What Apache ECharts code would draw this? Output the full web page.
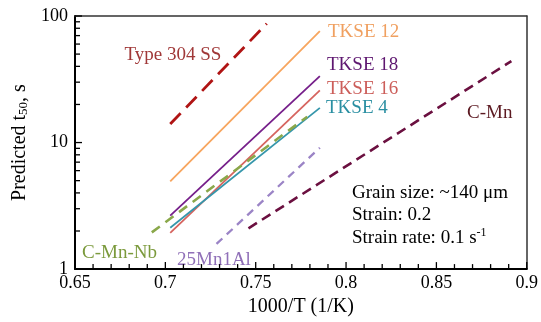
<!DOCTYPE html>
<html><head><meta charset="utf-8">
<script src="https://cdn.jsdelivr.net/npm/echarts@6/dist/echarts.min.js"></script>
<style>html,body{margin:0;padding:0;background:#fff}#c{width:541px;height:322px}</style>
</head><body><div id="c"></div>
<script>
// Data: [1000/T, predicted t50 (s)]
const tkse12 = [[0.7027, 4.93], [0.7855, 76]];
const tkse18 = [[0.7027, 2.65], [0.7855, 33.5]];
const tkse16 = [[0.7027, 1.93], [0.7855, 25.8]];
const tkse4 = [[0.7027, 2.12], [0.7855, 18.8]];
const type304 = [[0.7027, 14.0], [0.7561, 87]];
const cmnnb = [[0.6925, 1.95], [0.7785, 16.0]];
const mn25al1 = [[0.7283, 1.58], [0.7855, 9.1]];
const cmn = [[0.746, 2.1], [0.8915, 44]];
// tick values
const xMajor = [0.65, 0.7, 0.75, 0.8, 0.85, 0.9];
const xMinor = [0.66, 0.67, 0.68, 0.69, 0.71, 0.72, 0.73, 0.74, 0.76, 0.77, 0.78, 0.79,
                0.81, 0.82, 0.83, 0.84, 0.86, 0.87, 0.88, 0.89];
const yMajor = [1, 10, 100];
const yMinor = [2, 3, 4, 5, 6, 7, 8, 9, 20, 30, 40, 50, 60, 70, 80, 90];

const X_MIN = 0.65, X_MAX = 0.9, Y_MIN = 1, Y_MAX = 100;
const FONT = 'Liberation Serif';
const chart = echarts.init(document.getElementById('c'));
function line(name, data, color, width, dash) {
  return { name, type: 'line', data, symbol: 'none', xAxisIndex: 0, yAxisIndex: 0,
    lineStyle: { color, width, type: dash || 'solid', cap: 'butt' }, silent: true, animation: false };
}
function txt(text, x, y, color, align) {
  return { type: 'text', x, y, style: { text, fill: color, font: '19px "' + FONT + '"',
    align: align || 'left', verticalAlign: 'middle' } };
}
// inward tick marks as small rectangles placed through the axes' scales
function ticks(data, size, offset) {
  return { type: 'scatter', xAxisIndex: 0, yAxisIndex: 0, data, symbol: 'rect',
    symbolSize: size, symbolOffset: offset, clip: false, silent: true, z: 20, animation: false,
    itemStyle: { color: '#000', opacity: 1 } };
}
chart.setOption({
  animation: false,
  grid: { left: 75, top: 16, right: 12, bottom: 49 },
  xAxis: [{
    type: 'value', min: X_MIN, max: X_MAX, interval: 0.05, position: 'bottom',
    axisLine: { show: true, lineStyle: { color: '#000', width: 2 } },
    axisTick: { show: false }, minorTick: { show: false }, splitLine: { show: false },
    axisLabel: { show: true, color: '#000', fontFamily: FONT, fontSize: 18, margin: 5,
      formatter: v => String(+v.toFixed(2)) },
    name: '1000/T (1/K)', nameLocation: 'middle', nameGap: 26,
    nameTextStyle: { color: '#000', fontFamily: FONT, fontSize: 20 }
  }, {
    type: 'value', min: X_MIN, max: X_MAX, position: 'top',
    axisLine: { show: true, lineStyle: { color: '#333', width: 1.5 } },
    axisTick: { show: false }, axisLabel: { show: false }, splitLine: { show: false }
  }],
  yAxis: [{
    type: 'log', logBase: 10, min: Y_MIN, max: Y_MAX, position: 'left',
    axisLine: { show: true, lineStyle: { color: '#000', width: 2 } },
    axisTick: { show: false }, splitLine: { show: false },
    axisLabel: { show: true, color: '#000', fontFamily: FONT, fontSize: 18, margin: 7 },
    name: 'Predicted t{sub|50}, s', nameLocation: 'middle', nameGap: 40, nameRotate: 90,
    nameTextStyle: { color: '#000', fontFamily: FONT, fontSize: 20,
      rich: { sub: { fontFamily: FONT, fontSize: 13, verticalAlign: 'bottom', padding: [8, 0, 0, 0] } } }
  }, {
    type: 'log', logBase: 10, min: Y_MIN, max: Y_MAX, position: 'right',
    axisLine: { show: true, lineStyle: { color: '#333', width: 1.5 } },
    axisTick: { show: false }, axisLabel: { show: false }, splitLine: { show: false }
  }],
  series: [
    line('TKSE 12', tkse12, '#f7a55e', 1.8),
    line('TKSE 18', tkse18, '#761f8a', 1.8),
    line('TKSE 16', tkse16, '#d6645f', 1.8),
    line('TKSE 4', tkse4, '#3596ab', 1.8),
    line('C-Mn-Nb', cmnnb, '#8aa84a', 2.6, [10, 7]),
    line('25Mn1Al', mn25al1, '#9b84c6', 2.3, [8, 6]),
    line('C-Mn', cmn, '#6b1040', 2.6, [10, 6]),
    line('Type 304 SS', type304, '#b01414', 2.8, [15, 8]),
    ticks(yMinor.map(v => [X_MIN, v]), [5, 1.3], [2.5, 0]),
    ticks(yMajor.map(v => [X_MIN, v]), [7, 1.3], [3.5, 0]),
    ticks(xMinor.map(v => [v, Y_MIN]), [1.3, 5], [0, -2.5]),
    ticks(xMajor.map(v => [v, Y_MIN]), [1.3, 7], [0, -3.5])
  ],
  graphic: [
    txt('Type 304 SS', 173, 55, '#a03838', 'center'),
    txt('TKSE 12', 328, 32, '#f0a060'),
    txt('TKSE 18', 327, 65, '#5e1770'),
    txt('TKSE 16', 327, 89, '#cc5e5a'),
    txt('TKSE 4', 326, 108, '#2a8fa2'),
    txt('C-Mn', 467, 113, '#5c1a22'),
    txt('C-Mn-Nb', 82, 253, '#7b9a3c'),
    txt('25Mn1Al', 177, 260, '#9070b8'),
    txt('Grain size: ~140 μm', 352, 193, '#000'),
    txt('Strain: 0.2', 352, 215, '#000'),
    { type: 'text', x: 352, y: 238, style: { text: 'Strain rate: 0.1 s{sup|-1}', fill: '#000',
      font: '19px "' + FONT + '"', verticalAlign: 'middle',
      rich: { sup: { fontFamily: FONT, fontSize: 12, fill: '#000', verticalAlign: 'top', padding: [0, 0, 10, 0] } } } }
  ]
});
</script></body></html>
